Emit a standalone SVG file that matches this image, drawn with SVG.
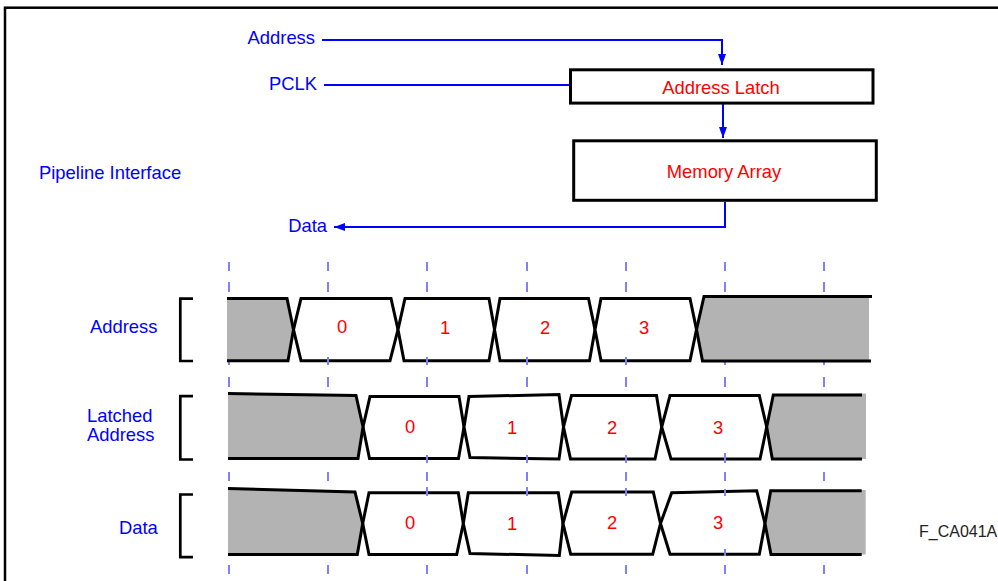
<svg xmlns="http://www.w3.org/2000/svg" width="998" height="581" viewBox="0 0 998 581">
<style>
text{font-family:"Liberation Sans",Arial,sans-serif;font-size:18.4px}
.b{fill:#0000ff}
.r{fill:#ff0000}
.box{fill:#ffffff;stroke:#000;stroke-width:3}
.conn{fill:none;stroke:#0000ff;stroke-width:2}
.tick{stroke:#8080ff;stroke-width:2}
.wv{fill:#ffffff;stroke:#000;stroke-width:3;stroke-linejoin:miter}
.gf{fill:#b3b3b3;stroke:none}
.gl{fill:none;stroke:#000;stroke-width:3}
.br{fill:none;stroke:#000;stroke-width:2.7}
</style>
<defs>
<marker id="ah" markerUnits="userSpaceOnUse" markerWidth="12" markerHeight="10" refX="11" refY="4" orient="auto">
<path d="M0,0 L11,4 L0,8 Z" fill="#0000ff"/>
</marker>
</defs>
<rect x="5" y="7.7" width="1000" height="600" fill="none" stroke="#000" stroke-width="2.5"/>
<text class="b" x="39" y="179">Pipeline Interface</text>
<text class="b" x="315" y="43.5" text-anchor="end">Address</text>
<text class="b" x="317" y="90" text-anchor="end">PCLK</text>
<text class="b" x="327" y="232" text-anchor="end">Data</text>
<g id="connectors">
<path class="conn" d="M322,40 H722 V65" marker-end="url(#ah)"/>
<path class="conn" d="M324,85 H570"/>
<path class="conn" d="M723,104 V138" marker-end="url(#ah)"/>
<path class="conn" d="M725,202 V227 H334" marker-end="url(#ah)"/>
</g>
<g id="address-latch">
<rect class="box" x="570.5" y="69.8" width="302.5" height="33.3"/>
<text class="r" x="721" y="94.3" text-anchor="middle">Address Latch</text>
</g>
<g id="memory-array">
<rect class="box" x="573.7" y="140.8" width="302.6" height="59.5"/>
<text class="r" x="724" y="178" text-anchor="middle">Memory Array</text>
</g>
<g id="row-labels">
<text class="b" x="90" y="333.3">Address</text>
<text class="b" x="87" y="421.7">Latched</text>
<text class="b" x="87" y="440.7">Address</text>
<text class="b" x="119" y="534">Data</text>
<path class="br" d="M193,298.7 H180.3 V361 H193"/>
<path class="br" d="M193,396.2 H180.3 V459.5 H193"/>
<path class="br" d="M193,494.5 H180.3 V557.2 H193"/>
</g>
<g id="waveforms">
<g class="wv">
<polygon points="301,298.5 391,298.5 398,329.6 390,360.7 301,360.7 293.5,329.6"/>
<polygon points="405,298.5 489,298.5 494.5,329.6 489,360.7 404,360.7 398,329.6"/>
<polygon points="500,298.5 588.5,298.5 595,329.6 589.5,360.7 500,360.7 494.5,329.6"/>
<polygon points="601,298.5 690,298.5 696.5,329.6 690,360.7 601,360.7 595,329.6"/>
<polygon points="370,396.5 459,396.5 464,427 458.5,458.5 369.5,458.5 363,427"/>
<polygon points="469,396.5 559,394.5 563.5,427 559,459 470,457.5 464,427"/>
<polygon points="571.5,395.5 656.5,395.5 661.7,427 655,459 570.5,459 563.5,427"/>
<polygon points="670,395.5 759.3,395.5 766.7,427 760,459 671,459 661.7,427"/>
<polygon points="369,492.7 458.3,492.7 463.3,523.5 456.7,554.5 369,554.5 362.7,523.5"/>
<polygon points="468.3,492.7 558.3,492.7 563,523.5 559.3,555.5 470,553.5 463.3,523.5"/>
<polygon points="571.7,492 653.3,492 660.5,523.5 652.7,554.3 570.7,554.3 563,523.5"/>
<polygon points="671.7,492.7 756.7,490.7 765,523.5 759.3,554.3 670,554.3 660.5,523.5"/>
</g>
<g class="tick">
<path d="M229,262V271M229,282V292M229,357V365M229,377V387M229,472V481M229,565V574"/>
<path d="M328,262V271M328,282V292M328,357V365M328,377V387M328,472V481M328,565V574"/>
<path d="M427,262V271M427,282V292M427,357V365M427,377V387M427,455V463M427,472V481M427,487V496M427,565V574"/>
<path d="M527,262V271M527,282V292M527,357V365M527,377V387M527,455V463M527,472V481M527,487V496M527,565V574"/>
<path d="M626,262V271M626,282V292M626,357V365M626,377V387M626,455V463M626,472V481M626,488V496M626,565V574"/>
<path d="M725,262V271M725,282V292M725,357V365M725,377V387M725,453V463M725,472V481M725,489V496M725,549V556M725,565V574"/>
<path d="M824,262V271M824,282V292M824,357V365M824,377V387M824,472V481M824,565V574"/>
</g>
<polygon class="gf" points="227,298.5 287,298.5 293.5,329.6 288,360.7 227,360.7"/>
<polyline class="gl" points="227,298.5 287,298.5 293.5,329.6 288,360.7 227,360.7"/>
<polygon class="gf" points="704,296.5 869,296.5 869,361 702.5,361 696.5,329.6"/>
<polyline class="gl" points="872,296.5 704,296.5 696.5,329.6 702.5,361 871,361"/>
<polygon class="gf" points="228,393.5 356,395.5 363,427 358,458.5 228,458.5"/>
<polyline class="gl" points="228,393.5 356,395.5 363,427 358,458.5 228,458.5"/>
<polygon class="gf" points="773.3,395 866,393.5 866,459 772.3,459 766.7,427"/>
<polyline class="gl" points="862,395 773.3,395 766.7,427 772.3,459 862,459"/>
<polygon class="gf" points="228,488.5 355,492 362.7,523.5 357.3,554.5 228,554.5"/>
<polyline class="gl" points="228,488.5 355,492 362.7,523.5 357.3,554.5 228,554.5"/>
<polygon class="gf" points="770.7,490.7 865.7,490 865.7,554.5 771,554.5 765,523.5"/>
<polyline class="gl" points="861.7,490.7 770.7,490.7 765,523.5 771,554.5 861.7,554.5"/>
</g>
<g id="values">
<text class="r" x="342" y="333" text-anchor="middle">0</text>
<text class="r" x="445" y="334" text-anchor="middle">1</text>
<text class="r" x="545" y="334" text-anchor="middle">2</text>
<text class="r" x="644" y="334" text-anchor="middle">3</text>
<text class="r" x="410" y="433" text-anchor="middle">0</text>
<text class="r" x="512" y="434" text-anchor="middle">1</text>
<text class="r" x="612" y="434" text-anchor="middle">2</text>
<text class="r" x="718" y="434" text-anchor="middle">3</text>
<text class="r" x="410" y="528.5" text-anchor="middle">0</text>
<text class="r" x="512" y="530" text-anchor="middle">1</text>
<text class="r" x="612" y="529" text-anchor="middle">2</text>
<text class="r" x="718" y="529" text-anchor="middle">3</text>
</g>
<text x="919" y="536.7" style="font-size:16px" fill="#222">F_CA041A</text>
</svg>
